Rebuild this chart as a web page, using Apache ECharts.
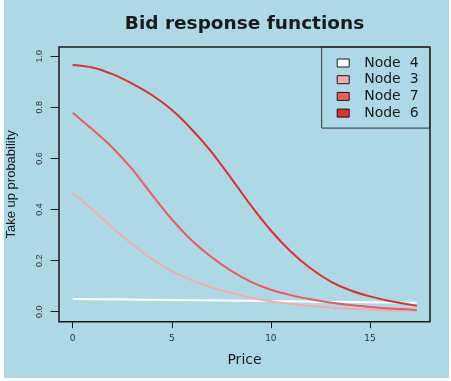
<!DOCTYPE html>
<html>
<head>
<meta charset="utf-8">
<script src="https://cdn.jsdelivr.net/npm/echarts@6/dist/echarts.min.js"></script>
<style>
html,body{margin:0;padding:0;background:#ffffff;}
#chart{width:451px;height:381px;}
</style>
</head>
<body>
<div id="chart"></div>
<script>
// ---- data ----
var price = [0, 1, 2, 3, 4, 5, 6, 7, 8, 9, 10, 11, 12, 13, 14, 15, 16, 17, 17.36];
var node6 = [0.966, 0.956, 0.930, 0.893, 0.848, 0.790, 0.714, 0.626, 0.522, 0.415, 0.318, 0.236, 0.170, 0.119, 0.084, 0.060, 0.042, 0.028, 0.023];
var node7 = [0.779, 0.713, 0.643, 0.558, 0.458, 0.362, 0.280, 0.214, 0.160, 0.117, 0.086, 0.065, 0.049, 0.036, 0.026, 0.019, 0.013, 0.009, 0.007];
var node3 = [0.466, 0.400, 0.330, 0.265, 0.206, 0.159, 0.124, 0.095, 0.073, 0.055, 0.041, 0.030, 0.022, 0.016, 0.012, 0.009, 0.006, 0.005, 0.004];
var node4Price = [0, 5, 10, 15, 17.36];
var node4 = [0.050, 0.046, 0.042, 0.037, 0.035];
var seriesNames = ['Node  4', 'Node  3', 'Node  7', 'Node  6'];
var seriesColors = ['#ffffff', '#f9a9a9', '#f05a5a', '#e0302a'];
var xTicks = [0, 5, 10, 15];
var xTickLabels = ['0', '5', '10', '15'];
var yTicks = [0, 0.2, 0.4, 0.6, 0.8, 1.0];
var yTickLabels = ['0.0', '0.2', '0.4', '0.6', '0.8', '1.0'];
var titleText = 'Bid response functions';
var xName = 'Price';
var yName = 'Take up probability';

function pairs(xs, ys) { return xs.map(function (x, i) { return [x, ys[i]]; }); }
var seriesData = [pairs(node4Price, node4), pairs(price, node3), pairs(price, node7), pairs(price, node6)];

var chart = echarts.init(document.getElementById('chart'), null, {renderer: 'canvas'});
var option = {
  animation: false,
  backgroundColor: 'transparent',
  graphic: [
    {type: 'rect', z: -100, shape: {x: 4, y: 0, width: 445, height: 378}, style: {fill: '#add8e6'}},
    {type: 'text', x: 244.5, y: 24.5, style: {text: titleText, fill: '#1a1a1a', font: 'bold 18.5px "DejaVu Sans"', textAlign: 'center', textVerticalAlign: 'middle'}}
  ],
  grid: {left: 59, top: 47, width: 371, height: 274.7, show: true, containLabel: false, outerBoundsMode: 'none',
    borderColor: '#1a1a1a', borderWidth: 1.5, backgroundColor: 'transparent'},
  xAxis: {
    type: 'value', min: -0.69, max: 18.03,
    name: xName, nameLocation: 'middle', nameGap: 31.5,
    nameTextStyle: {fontFamily: 'DejaVu Sans', fontSize: 14, color: '#1a1a1a'},
    axisLine: {show: false, onZero: false},
    splitLine: {show: false},
    axisTick: {show: true, customValues: xTicks, length: 6.5, lineStyle: {color: '#1a1a1a', width: 1}},
    axisLabel: {customValues: xTicks, margin: 12.5, fontFamily: 'DejaVu Sans', fontSize: 9, color: '#333',
      formatter: function (v) { var i = xTicks.indexOf(v); return i >= 0 ? xTickLabels[i] : ''; }}
  },
  yAxis: {
    type: 'value', min: -0.039, max: 1.036,
    name: yName, nameLocation: 'middle', nameGap: 41,
    nameTextStyle: {fontFamily: 'Liberation Sans', fontSize: 13, color: '#1a1a1a'},
    axisLine: {show: false, onZero: false},
    splitLine: {show: false},
    axisTick: {show: true, customValues: yTicks, length: 8.5, lineStyle: {color: '#1a1a1a', width: 1}},
    axisLabel: {customValues: yTicks, rotate: 90, margin: 15, fontFamily: 'Liberation Sans', fontSize: 9, color: '#333',
      formatter: function (v) { for (var i = 0; i < yTicks.length; i++) { if (Math.abs(yTicks[i] - v) < 1e-9) return yTickLabels[i]; } return ''; }}
  },
  legend: {
    orient: 'vertical', left: 321.7, top: 47,
    padding: [9, 11, 8, 15],
    borderColor: '#333', borderWidth: 1, backgroundColor: 'transparent',
    itemWidth: 12, itemHeight: 8, itemGap: 2.7,
    icon: 'rect',
    itemStyle: {borderColor: '#1a1a1a', borderWidth: 1},
    data: seriesNames,
    formatter: '{a|{name}}',
    textStyle: {rich: {a: {fontFamily: 'DejaVu Sans', fontSize: 14, color: '#1a1a1a', lineHeight: 14, padding: [0, 0, 0, 10]}}}
  },
  series: seriesNames.map(function (n, i) {
    return {
      name: n, type: 'line', data: seriesData[i],
      showSymbol: false, symbol: 'none', smooth: 0.3,
      color: seriesColors[i],
      lineStyle: {color: seriesColors[i], width: 2},
      itemStyle: {color: seriesColors[i]},
      emphasis: {disabled: true}
    };
  })
};
chart.setOption(option);
</script>
</body>
</html>
